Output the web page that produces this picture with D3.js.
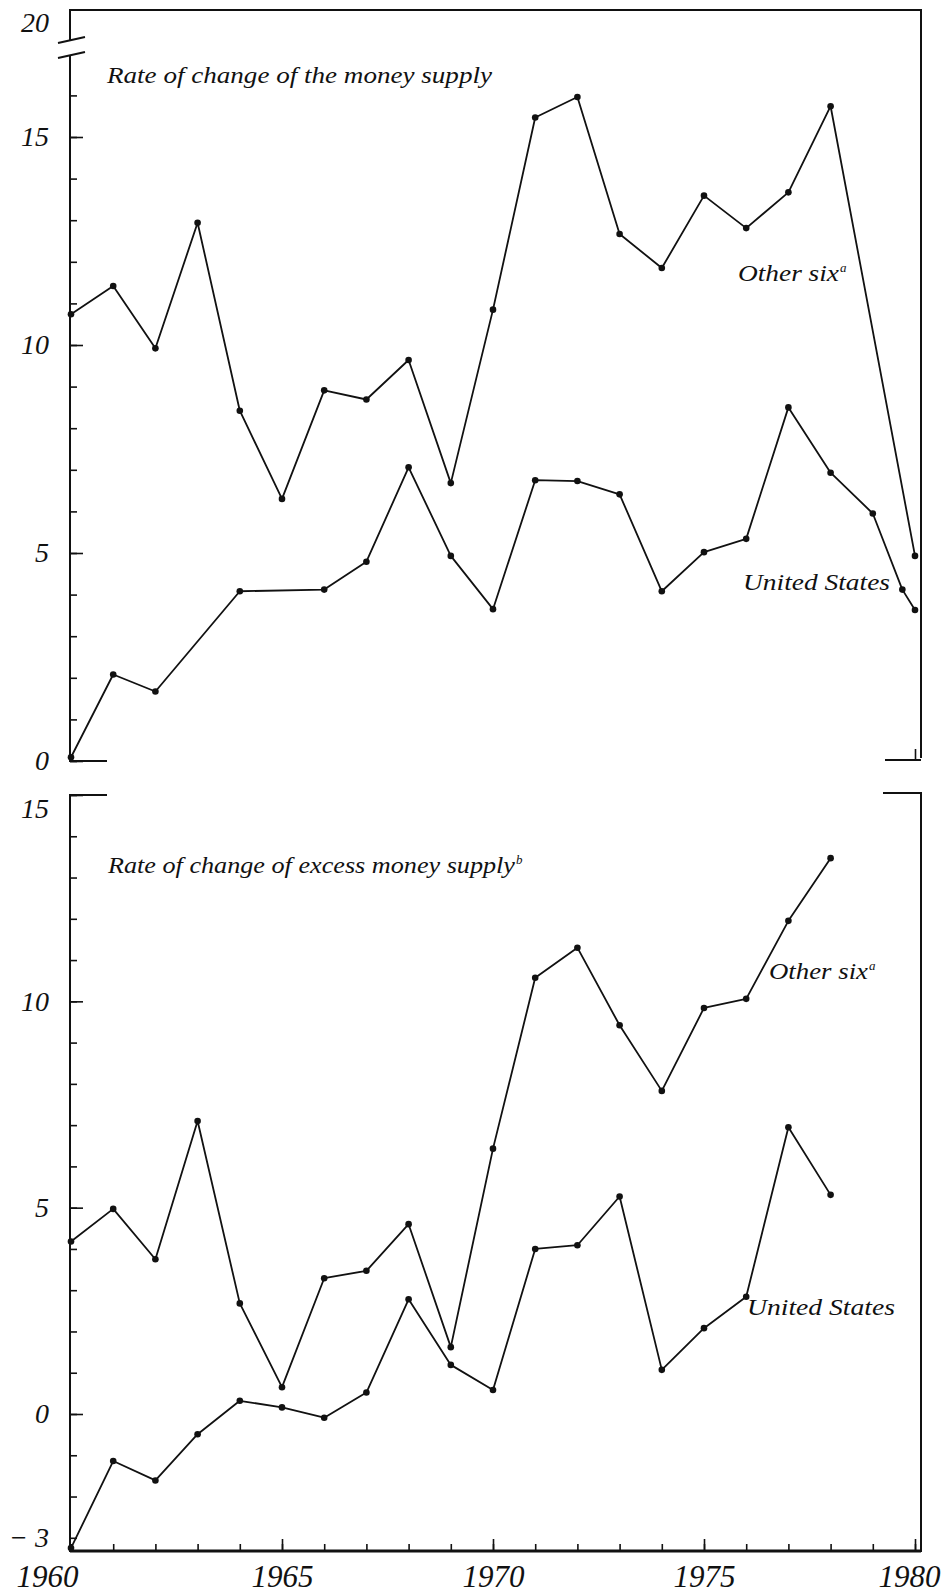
<!DOCTYPE html>
<html><head><meta charset="utf-8">
<script src="https://cdn.jsdelivr.net/npm/d3@7"></script>
<style>
body{margin:0;background:#fff}
svg{display:block}
text{font-family:"Liberation Serif","DejaVu Serif",serif;font-style:italic;fill:#111}
</style>
</head><body><svg id="c" width="943" height="1595"></svg>
<script>
// ---------- data ----------
const topOtherYears  = [1960,1961,1962,1963,1964,1965,1966,1967,1968,1969,1970,1971,1972,1973,1974,1975,1976,1977,1978,1980];
const topOtherValues = [10.74,11.42,9.92,12.94,8.42,6.30,8.91,8.69,9.64,6.68,10.85,15.47,15.96,12.67,11.85,13.59,12.81,13.67,15.74,4.93];
const topUSYears  = [1960,1961,1962,1964,1966,1967,1968,1969,1970,1971,1972,1973,1974,1975,1976,1977,1978,1979,1979.7,1980];
const topUSValues = [0.09,2.08,1.67,4.08,4.12,4.79,7.06,4.93,3.65,6.75,6.73,6.41,4.08,5.02,5.34,8.50,6.93,5.95,4.12,3.63];
const botYears = [1960,1961,1962,1963,1964,1965,1966,1967,1968,1969,1970,1971,1972,1973,1974,1975,1976,1977,1978];
const botOtherValues = [4.18,4.97,3.75,7.10,2.68,0.65,3.29,3.47,4.60,1.62,6.43,10.57,11.30,9.42,7.83,9.84,10.06,11.95,13.47];
const botUSValues    = [-3.25,-1.14,-1.61,-0.49,0.32,0.16,-0.09,0.52,2.78,1.19,0.58,4.00,4.09,5.27,1.07,2.08,2.84,6.95,5.31];
const xTickYears = d3.range(1960, 1981);
const xLabelYears = [1960,1965,1970,1975,1980];
const topYTicks = d3.range(0, 17);
const topYLabels = [0,5,10,15];
const topBreakLabel = "20";
const botYTicks = d3.range(-3, 16);
const botYLabels = [-3,0,5,10,15];
const topTitle = "Rate of change of the money supply";
const botTitle = "Rate of change of excess money supply";
const seriesNames = ["Other six", "United States"];

// ---------- layout ----------
const svg = d3.select("#c");
const L = 70, R = 921;
const x = d3.scaleLinear().domain([1960,1980]).range([71,915]);
const yTop = d3.scaleLinear().domain([0,15]).range([761,137]);
const yBot = d3.scaleLinear().domain([0,15]).range([1414,795]);
const topBorderY = 10;
const botAxisY = 1551;
const frame = svg.append("g").attr("fill","none").attr("stroke","#111").attr("stroke-width",2);

// top panel frame
frame.append("path").attr("d",`M${L},40 V${topBorderY} H${R} V${yTop(0)-3}`);
frame.append("path").attr("d",`M${L},55 V${yTop(0)} H107`);
frame.append("path").attr("d",`M885,${yTop(0)-1} H${R}`);
frame.append("path").attr("d",`M58,43 L85,37 M58,58 L85,52`);
// bottom panel frame
frame.append("path").attr("d",`M107,${yBot(15)} H${L} V${botAxisY} H${R} V${yBot(15)-2} H883`);
svg.append("line").attr("x1",L).attr("x2",R).attr("y1",botAxisY).attr("y2",botAxisY)
  .attr("stroke","#111").attr("stroke-width",3);

function clean(g){ g.select(".domain").remove(); g.selectAll("line").attr("stroke","#111").attr("stroke-width",1.6); }

// y ticks (inward) and labels
function yAxis(scale, ticks, labels){
  svg.append("g").attr("transform",`translate(${L},0)`)
    .call(d3.axisRight(scale).tickValues(ticks).tickSize(7).tickFormat(""))
    .call(clean);
  svg.append("g").attr("transform",`translate(${L},0)`)
    .call(d3.axisRight(scale).tickValues(labels.filter(v=>v%5===0)).tickSize(13).tickFormat(""))
    .call(clean);
  const g = svg.append("g").attr("transform",`translate(${L},0)`)
    .call(d3.axisLeft(scale).tickValues(labels).tickSize(0).tickPadding(21)
      .tickFormat(d => d < 0 ? "\u2212 " + Math.abs(d) : d));
  g.select(".domain").remove();
  g.selectAll("text").attr("font-size",28).attr("font-family",null).attr("fill","#111");
  return g;
}
yAxis(yTop, topYTicks, topYLabels);
const gb = yAxis(yBot, botYTicks, botYLabels);
gb.selectAll(".tick").filter(d=>d===15).select("text").attr("dy","0.8em");
svg.append("text").attr("x",49).attr("y",topBorderY+13).attr("dy","0.32em")
  .attr("text-anchor","end").attr("font-size",28).text(topBreakLabel);

// x ticks
svg.append("g").attr("transform",`translate(0,${botAxisY})`)
  .call(d3.axisTop(x).tickValues(xTickYears).tickSize(7).tickFormat("")).call(clean);
svg.append("g").attr("transform",`translate(0,${botAxisY})`)
  .call(d3.axisTop(x).tickValues(xLabelYears.slice(1)).tickSize(12).tickFormat("")).call(clean);
svg.append("g").attr("transform",`translate(0,${yTop(0)})`)
  .call(d3.axisTop(x).tickValues([1980]).tickSize(12).tickFormat("")).call(clean);
const gx = svg.append("g").attr("transform",`translate(0,${botAxisY})`)
  .call(d3.axisBottom(x).tickValues(xLabelYears).tickSize(0).tickPadding(14).tickFormat(d3.format("d")));
gx.select(".domain").remove();
gx.selectAll("text").attr("font-size",31).attr("font-family",null).attr("fill","#111");
gx.selectAll(".tick").filter(d=>d===1960).select("text").attr("dx",-24);
gx.selectAll(".tick").filter(d=>d===1980).select("text").attr("dx",-6);

// series
function series(xs, ys, yScale){
  const pts = xs.map((d,i)=>[d, ys[i]]);
  const line = d3.line().x(d=>x(d[0])).y(d=>yScale(d[1]));
  svg.append("path").datum(pts).attr("d",line).attr("fill","none")
    .attr("stroke","#111").attr("stroke-width",1.8).attr("stroke-linejoin","round");
  svg.append("g").selectAll("circle").data(pts).join("circle")
    .attr("cx",d=>x(d[0])).attr("cy",d=>yScale(d[1])).attr("r",3.3).attr("fill","#111");
}
series(topOtherYears, topOtherValues, yTop);
series(topUSYears, topUSValues, yTop);
series(botYears, botOtherValues, yBot);
series(botYears, botUSValues, yBot);

// texts
function label(xp, yp, txt, len, sup){
  const t = svg.append("text").attr("x",xp).attr("y",yp).attr("font-size",24);
  t.append("tspan").text(txt).attr("textLength",len).attr("lengthAdjust","spacingAndGlyphs");
  if (sup) t.append("tspan").text(sup).attr("font-size",13).attr("dx",1).attr("dy",-9);
}
label(107, 83, topTitle, 385);
label(108, 873, botTitle, 407, "b");
label(738, 281, seriesNames[0], 101, "a");
label(743, 590, seriesNames[1], 147);
label(769, 979, seriesNames[0], 99, "a");
label(747, 1315, seriesNames[1], 148);
</script>
</body></html>
